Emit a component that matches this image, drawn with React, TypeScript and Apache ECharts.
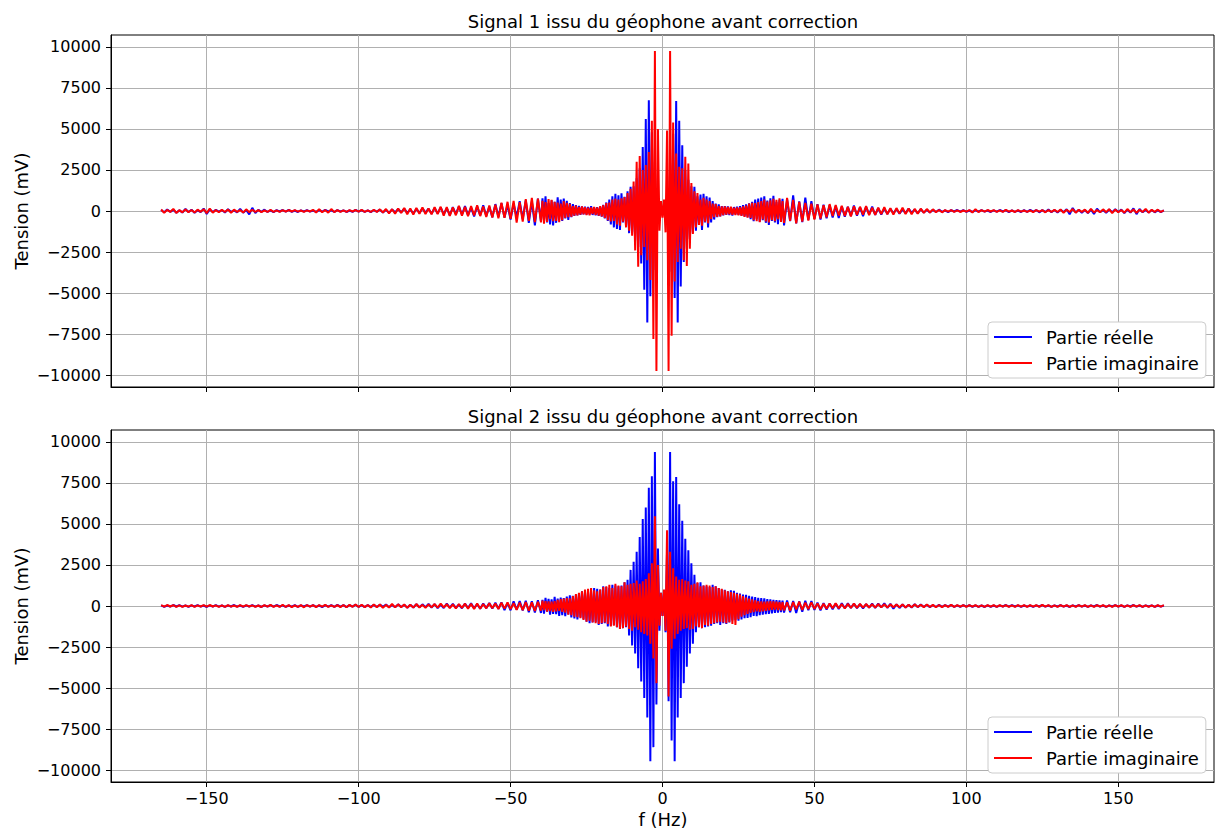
import React, { useEffect, useRef } from "react";
import * as echarts from "echarts";

// Frequency sampling: left tail ends at -41 Hz (1 Hz step), centre -40..39.5 Hz (0.5 Hz step), right tail 40..165 Hz (1 Hz step)
const xTicks = [-150, -100, -50, 0, 50, 100, 150];
const yTicks = [-10000, -7500, -5000, -2500, 0, 2500, 5000, 7500, 10000];
const seriesNames = ["Partie réelle", "Partie imaginaire"];
const titles = ["Signal 1 issu du géophone avant correction", "Signal 2 issu du géophone avant correction"];

// ---------- Signal 1, real part (blue) ----------
const re1Left = [
  60, -80, 90, -50, 70, -100, 40, -90, 120, -60,
  80, -110, 50, -70, 150, -180, 90, -60, 70, -40,
  60, -90, 110, -50, 40, -80, 130, -100, 60, -210,
  190, -120, 70, -50, 80, -60, 40, -70, 50, -30,
  60, -40, 70, -50, 30, -60, 40, -30, 50, -40,
  30, -50, 60, -40, 70, -30, 40, -60, 50, -30,
  40, -60, 30, -50, 70, -40, 60, -50, 40, -70,
  60, -40, 80, -90, 70, -110, 100, -80, 120, -90,
  140, -110, 90, -150, 130, -120, 160, -100, 140, -170,
  180, -150, 220, -200, 170, -260, 240, -190, 280, -230,
  300, -250, 210, -330, 290, -270, 350, -300, 260, -380,
  420, -350, 480, -400, 360, -520, 450, -380, 600, -500,
  650, -720, 580, -880, 760,
];
const re1Mid = [
  -620, 780, -540, 900, -700, 480, -820, 650, -880, 560,
  -720, 840, -500, 690, -600, 760, -450, 620, -540, 480,
  -380, 420, -300, 350, -260, 310, -240, 280, -200, 260,
  -220, 250, -180, 290, -240, 200, -260, 230, -300, 270,
  -340, 380, -450, 520, -600, 700, -820, 900, -1000, 1050,
  -1100, 950, -1150, 1080, -700, 860, -900, 1200, -1350, 1480,
  -1300, 1500, -1800, 2000, -2200, 2600, -3200, 3900, -4800, 5600,
  -6800, 6750, -5200, 4800, -3600, 3000, -1800, 900, -500, 300,
  -200, 300, -500, 900, -1700, 2900, -3700, 4700, -5300, 6700,
  -6800, 5500, -4600, 4000, -3100, 2500, -2300, 1900, -1700, 1500,
  -1350, 1480, -1200, 900, -850, 1000, -1150, 1050, -700, 900,
  -1000, 820, -700, 600, -520, 450, -380, 400, -330, 300,
  -260, 300, -230, 280, -250, 210, -280, 240, -200, 260,
  -240, 300, -280, 350, -320, 400, -380, 460, -500, 560,
  -620, 700, -480, 760, -650, 820, -560, 900, -720, 640,
  -850, 780, -600, 920, -700, 560, -800, 680, -520, 740,
];
const re1Right = [
  -880, 700, -620, 950, -760, 580, -680, 820, -540, 600,
  -480, 420, -520, 380, -450, 350, -400, 300, -420, 280,
  -350, 260, -300, 330, -280, 220, -310, 250, -200, 270,
  -240, 180, -220, 160, -190, 140, -150, 120, -160, 100,
  -130, 150, -110, 90, -140, 120, -100, 80, -90, 70,
  -60, 80, -50, 40, -70, 50, -30, 60, -40, 50,
  -50, 30, -60, 40, -30, 50, -40, 30, -60, 40,
  -40, 60, -30, 50, -70, 40, -50, 30, -60, 50,
  -50, 70, -40, 60, -80, 50, -60, 90, -70, 60,
  -90, 80, -60, 110, -200, 180, -90, 70, -100, 60,
  -120, 90, -180, 140, -80, 60, -110, 90, -70, 100,
  -60, 90, -130, 80, -100, 160, -190, 120, -80, 70,
  -90, 60, -80, 50, -70, 40,
];

// ---------- Signal 1, imaginary part (red) ----------
const im1Left = [
  90, -110, 70, -60, 130, -120, 50, -80, 100, -70,
  60, -90, 80, -50, 110, -130, 150, -100, 60, -80,
  70, -60, 90, -110, 80, -50, 60, -90, 100, -70,
  80, -60, 50, -70, 40, -60, 70, -50, 40, -60,
  50, -40, 60, -30, 50, -40, 30, -50, 40, -30,
  70, -90, 110, -80, 60, -100, 120, -70, 50, -60,
  40, -60, 50, -30, 60, -40, 70, -50, 40, -60,
  80, -60, 100, -90, 120, -140, 110, -160, 150, -120,
  180, -200, 160, -220, 190, -170, 210, -180, 150, -200,
  230, -190, 260, -280, 240, -300, 220, -260, 310, -280,
  250, -320, 300, -270, 350, -310, 280, -360, 330, -400,
  380, -450, 500, -420, 560, -480, 620, -700, 540, -650,
  720, -600, 800, -680, 760,
];
const im1Mid = [
  -700, 620, -780, 540, -660, 720, -500, 680, -620, 560,
  -600, 520, -680, 450, -560, 600, -420, 500, -380, 440,
  -350, 300, -280, 330, -260, 240, -220, 280, -200, 230,
  -240, 200, -260, 220, -190, 250, -230, 210, -280, 300,
  -320, 350, -420, 480, -560, 520, -640, 700, -600, 750,
  -820, 700, -900, 780, -650, 850, -1000, 1100, -1200, 1350,
  -1500, 1800, -2400, 3000, -3400, 3350, -2700, 2500, -2200, 2800,
  -3000, 3600, -4200, 5500, -7800, 9750, -9750, 5000, -1200, 600,
  -400, 700, -1300, 4900, -9750, 9750, -7600, 5400, -4300, 3500,
  -3100, 2700, -2300, 2600, -3000, 3300, -3350, 2900, -2300, 1700,
  -1400, 1200, -1000, 1100, -850, 700, -900, 800, -650, 700,
  -750, 600, -500, 450, -380, 420, -350, 300, -330, 280,
  -250, 280, -220, 240, -200, 260, -230, 200, -240, 220,
  -260, 230, -300, 280, -350, 330, -400, 450, -420, 500,
  -560, 480, -620, 540, -680, 600, -520, 700, -640, 580,
  -700, 650, -560, 740, -620, 680, -500, 780, -660, 600,
];
const im1Right = [
  -720, 800, -600, 680, -760, 560, -640, 500, -580, 450,
  -520, 400, -460, 350, -380, 420, -300, 360, -280, 320,
  -300, 250, -330, 280, -240, 260, -220, 300, -250, 200,
  -230, 210, -190, 240, -200, 170, -220, 180, -160, 200,
  -180, 150, -200, 130, -160, 140, -110, 120, -90, 100,
  -70, 60, -80, 50, -40, 60, -50, 40, -60, 30,
  -40, 60, -90, 110, -70, 50, -40, 60, -30, 50,
  -60, 40, -50, 70, -40, 30, -60, 50, -40, 30,
  -50, 40, -70, 60, -40, 50, -80, 60, -50, 70,
  -60, 90, -110, 80, -60, 120, -100, 70, -50, 80,
  -110, 130, -90, 60, -80, 100, -70, 110, -130, 90,
  -80, 60, -100, 120, -70, 90, -110, 80, -60, 130,
  -100, 70, -50, 80, -60, 40,
];

// ---------- Signal 2, real part (blue) ----------
const re2Left = [
  40, -50, 30, -40, 60, -30, 50, -40, 30, -50,
  40, -30, 50, -40, 30, -60, 40, -30, 50, -40,
  30, -50, 40, -30, 60, -40, 30, -50, 40, -30,
  50, -40, 30, -60, 40, -30, 50, -40, 60, -30,
  40, -50, 30, -40, 50, -60, 40, -30, 50, -40,
  60, -50, 40, -70, 50, -40, 60, -50, 70, -40,
  50, -70, 60, -40, 80, -60, 50, -70, 60, -50,
  70, -60, 80, -50, 90, -70, 60, -80, 100, -60,
  80, -100, 70, -90, 110, -80, 100, -70, 120, -90,
  110, -130, 90, -120, 140, -100, 130, -110, 90, -140,
  150, -120, 160, -140, 120, -170, 150, -130, 180, -160,
  200, -170, 220, -250, 190, -260, 280, -230, 300, -270,
  320, -380, 290, -400, 350,
];
const re2Mid = [
  -420, 380, -460, 500, -350, 440, -520, 400, -480, 560,
  -500, 450, -600, 520, -560, 480, -620, 580, -520, 650,
  -700, 620, -760, 680, -820, 750, -700, 900, -800, 860,
  -950, 880, -1050, 920, -1000, 1100, -980, 1050, -1150, 1000,
  -1100, 1200, -1050, 1150, -1250, 1100, -1200, 1300, -1150, 1250,
  -1300, 1200, -1400, 1250, -1350, 1450, -1300, 1600, -1800, 2200,
  -2400, 2700, -2900, 3300, -3800, 4200, -4600, 5300, -5600, 6000,
  -6800, 7200, -9460, 7900, -8600, 9380, -6000, 3500, -1500, 800,
  -600, 900, -1600, 3400, -5800, 9380, -8200, 7600, -9460, 7860,
  -6800, 6200, -5600, 5200, -4700, 4100, -3700, 3400, -2900, 2600,
  -2300, 1900, -1600, 1400, -1300, 1450, -1350, 1250, -1300, 1200,
  -1250, 1150, -1200, 1300, -1100, 1200, -1050, 1100, -1150, 1000,
  -1050, 980, -1100, 900, -1000, 950, -880, 920, -850, 800,
  -900, 760, -820, 700, -750, 680, -720, 620, -680, 580,
  -600, 540, -620, 500, -560, 480, -520, 460, -500, 420,
  -480, 400, -450, 380, -420, 360, -400, 340, -380, 320,
];
const re2Right = [
  -400, 340, -380, 300, -420, 280, -350, 320, -260, 300,
  -240, 200, -260, 180, -220, 160, -200, 150, -180, 170,
  -140, 160, -120, 150, -130, 110, -150, 120, -100, 140,
  -120, 150, -90, 170, -110, 130, -160, 100, -120, 90,
  -100, 80, -90, 110, -70, 90, -60, 80, -70, 60,
  -60, 70, -50, 60, -40, 70, -50, 40, -60, 50,
  -40, 50, -60, 40, -50, 30, -60, 40, -50, 30,
  -50, 40, -30, 60, -40, 50, -30, 40, -50, 30,
  -40, 30, -50, 40, -30, 60, -40, 30, -50, 40,
  -30, 50, -40, 30, -60, 40, -30, 50, -40, 30,
  -50, 40, -30, 60, -40, 30, -50, 40, -30, 50,
  -40, 30, -50, 40, -30, 60, -40, 30, -50, 40,
  -30, 40, -50, 30, -40, 30,
];

// ---------- Signal 2, imaginary part (red) ----------
const im2Left = [
  50, -40, 60, -30, 50, -60, 40, -50, 30, -40,
  60, -50, 40, -30, 50, -40, 60, -30, 40, -50,
  40, -60, 50, -40, 30, -50, 60, -40, 50, -30,
  40, -50, 30, -60, 50, -40, 70, -50, 40, -60,
  80, -60, 50, -70, 40, -60, 50, -80, 60, -40,
  50, -70, 60, -40, 70, -50, 40, -60, 50, -70,
  60, -80, 70, -50, 90, -60, 80, -70, 60, -90,
  100, -80, 90, -110, 70, -90, 120, -80, 100, -70,
  90, -110, 80, -100, 120, -90, 70, -110, 100, -80,
  120, -100, 140, -90, 110, -130, 100, -150, 120, -110,
  140, -160, 130, -180, 150, -170, 120, -140, 160, -130,
  150, -180, 200, -160, 220, -190, 170, -230, 200, -250,
  240, -280, 220, -300, 260,
];
const im2Mid = [
  -280, 320, -250, 300, -340, 280, -310, 260, -350, 300,
  -330, 380, -300, 420, -360, 450, -400, 480, -520, 460,
  -560, 600, -650, 720, -680, 800, -750, 900, -850, 1000,
  -950, 1050, -900, 1100, -1000, 950, -1050, 900, -1100, 1000,
  -1050, 1150, -1000, 1200, -1100, 1300, -1250, 1100, -1200, 1350,
  -1300, 1250, -1400, 1200, -1350, 1450, -1250, 1300, -1400, 1350,
  -1500, 1400, -1300, 1550, -1450, 1350, -1600, 1500, -1700, 1650,
  -1800, 2000, -2300, 2600, -3200, 5470, -4700, 2500, -1200, 800,
  -600, 1000, -1500, 4620, -5510, 3300, -2600, 2300, -2000, 1800,
  -1700, 1600, -1500, 1650, -1400, 1550, -1350, 1500, -1450, 1300,
  -1400, 1350, -1250, 1450, -1300, 1200, -1350, 1250, -1150, 1300,
  -1200, 1250, -1100, 1150, -1050, 1200, -1000, 1100, -950, 1050,
  -1000, 950, -1050, 900, -980, 850, -1100, 800, -1150, 750,
  -800, 700, -650, 600, -560, 520, -480, 450, -420, 400,
  -380, 350, -330, 300, -350, 280, -320, 260, -300, 280,
  -260, 300, -240, 280, -220, 260, -250, 230, -270, 240,
];
const im2Right = [
  -260, 220, -280, 240, -200, 260, -230, 210, -190, 220,
  -180, 160, -200, 140, -170, 150, -130, 160, -140, 120,
  -150, 130, -120, 140, -110, 130, -100, 120, -90, 110,
  -100, 120, -80, 110, -90, 100, -70, 90, -80, 100,
  -90, 70, -80, 100, -60, 80, -70, 90, -60, 70,
  -80, 60, -70, 50, -60, 70, -50, 60, -40, 50,
  -60, 50, -40, 60, -50, 40, -60, 50, -40, 60,
  -50, 60, -40, 50, -60, 40, -50, 60, -40, 50,
  -60, 50, -40, 60, -50, 70, -40, 50, -60, 40,
  -50, 60, -40, 50, -60, 40, -50, 60, -40, 50,
  -60, 40, -50, 60, -40, 50, -60, 40, -50, 60,
  -40, 50, -60, 40, -50, 60, -40, 50, -60, 40,
  -50, 40, -60, 50, -40, 50,
];

function build(left: number[], mid: number[], right: number[]) {
  const pts: number[][] = [];
  left.forEach((v, i) => pts.push([-41 - (left.length - 1 - i), v]));
  mid.forEach((v, i) => pts.push([-40 + i * 0.5, v]));
  right.forEach((v, i) => pts.push([40 + i, v]));
  return pts;
}

const FONT = "DejaVu Sans";
const fmt = (v: number) => (v < 0 ? "\u2212" + Math.abs(v) : String(v));

export default function App() {
  const ref = useRef<HTMLDivElement>(null);
  useEffect(() => {
    if (!ref.current) return;
    const chart = echarts.init(ref.current, null, { renderer: "svg" });
    const grids = [
      { left: 111, top: 35, width: 1103, height: 352 },
      { left: 111, top: 430, width: 1103, height: 352 },
    ];
    const mkX = (i: number) => ({
      type: "value",
      gridIndex: i,
      min: -181.5,
      max: 181.5,
      axisLine: { show: true, onZero: false, lineStyle: { color: "#000", width: 1 } },
      axisTick: { show: true, length: 5, customValues: xTicks, lineStyle: { color: "#000" } },
      axisLabel: {
        show: i === 1,
        customValues: xTicks,
        formatter: fmt,
        margin: 8,
        color: "#000",
        fontFamily: FONT,
        fontSize: 16,
      },
      splitLine: { show: true, lineStyle: { color: "#b0b0b0", width: 1 } },
    });
    const mkY = (i: number) => ({
      type: "value",
      gridIndex: i,
      min: -10725,
      max: 10725,
      axisLine: { show: true, onZero: false, lineStyle: { color: "#000", width: 1 } },
      axisTick: { show: true, length: 5, customValues: yTicks, lineStyle: { color: "#000" } },
      axisLabel: {
        customValues: yTicks,
        formatter: fmt,
        margin: 10,
        color: "#000",
        fontFamily: FONT,
        fontSize: 16,
      },
      splitLine: { show: true, lineStyle: { color: "#b0b0b0", width: 1 } },
    });
    const mkSeries = (name: string, data: number[][], idx: number, color: string) => ({
      name,
      type: "line",
      xAxisIndex: idx,
      yAxisIndex: idx,
      data,
      showSymbol: false,
      symbol: "none",
      lineStyle: { color, width: 2 },
      itemStyle: { color },
      emphasis: { disabled: true },
      z: color === "#ff0000" ? 3 : 2,
    });
    const mkLegend = (top: number) => ({
      orient: "vertical",
      left: 988,
      top,
      data: seriesNames,
      icon: "rect",
      itemWidth: 38,
      itemHeight: 2,
      itemGap: 8,
      padding: [6, 7, 6, 6],
      backgroundColor: "#ffffff",
      borderColor: "#cccccc",
      borderWidth: 1,
      borderRadius: 4,
      textStyle: { fontFamily: FONT, fontSize: 18, color: "#000", padding: [0, 0, 0, 9] },
    });
    const textEl = (text: string, x: number, y: number, rotation = 0) => ({
      type: "text",
      x,
      y,
      rotation,
      style: {
        text,
        font: `18px '${FONT}'`,
        fill: "#000",
        textAlign: "center",
        textVerticalAlign: "middle",
      },
    });
    chart.setOption({
      animation: false,
      grid: grids.map((g) => ({ ...g, show: true, borderColor: "#000", borderWidth: 1, backgroundColor: "transparent" })),
      xAxis: [mkX(0), mkX(1)],
      yAxis: [mkY(0), mkY(1)],
      legend: [mkLegend(322), mkLegend(717)],
      series: [
        mkSeries(seriesNames[0], build(re1Left, re1Mid, re1Right), 0, "#0000ff"),
        mkSeries(seriesNames[1], build(im1Left, im1Mid, im1Right), 0, "#ff0000"),
        mkSeries(seriesNames[0], build(re2Left, re2Mid, re2Right), 1, "#0000ff"),
        mkSeries(seriesNames[1], build(im2Left, im2Mid, im2Right), 1, "#ff0000"),
      ],
      graphic: [
        textEl(titles[0], 663, 21),
        textEl(titles[1], 663, 416),
        textEl("Tension (mV)", 21, 211, Math.PI / 2),
        textEl("Tension (mV)", 21, 606, Math.PI / 2),
        textEl("f (Hz)", 663, 819),
      ],
    });
    return () => chart.dispose();
  }, []);
  return (
    <div
      ref={ref}
      style={{ position: "absolute", left: 0, top: 0, width: 1215, height: 834, background: "#fff" }}
    />
  );
}
